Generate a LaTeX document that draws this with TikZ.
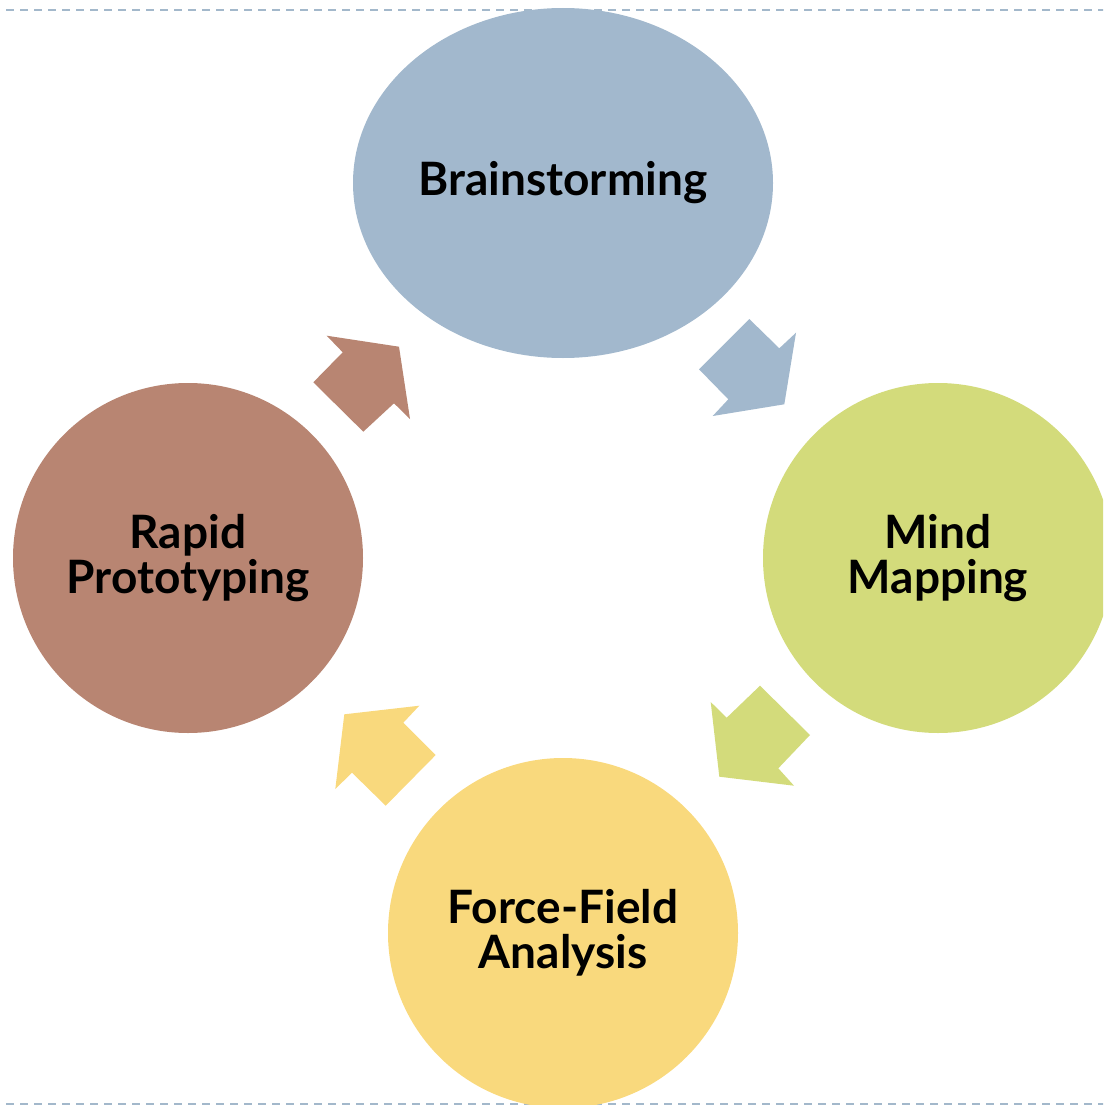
\documentclass[tikz,border=0pt]{standalone}
\usepackage{fontspec}
\setmainfont{Lato}
\usetikzlibrary{shapes.geometric}
\definecolor{cblue}{HTML}{A2B8CD}
\definecolor{cgreen}{HTML}{D3DB7B}
\definecolor{cyellow}{HTML}{F9D97D}
\definecolor{cbrown}{HTML}{B88572}
\definecolor{cdash}{HTML}{A3B8CB}
\tikzset{
  stage/.style={circle, minimum size=350pt, inner sep=0pt, align=center,
    font=\fontsize{46}{45}\selectfont\bfseries, text=black},
  frameline/.style={draw=cdash, line width=2pt, dash pattern=on 8pt off 6pt},
}
\begin{document}
\begin{tikzpicture}[x=1pt,y=-1pt]
\useasboundingbox (0,0) rectangle (1103,1105);
\begin{scope}
\clip (0,0) rectangle (1103,1105);
\coordinate (tl) at (6,10);
\coordinate (tr) at (1110,10);
\coordinate (bl) at (6,1104);
\coordinate (br) at (1110,1104);
\draw[frameline] (tl) -- (tr);
\draw[frameline] (bl) -- (br);

\node[stage, ellipse, fill=cblue, minimum width=420pt, minimum height=350pt] (brain) at (563,183) {Brainstorming};
\node[stage, fill=cgreen] (mind) at (938,558) {Mind\\Mapping};
\node[stage, fill=cyellow] (force) at (563,933) {Force-Field\\Analysis};
\node[stage, fill=cbrown] (rapid) at (188,558) {Rapid\\Prototyping};

% block arrows
\fill[cblue] (749.3,319) -- (779.3,348.3) -- (796,332.7) -- (784.3,404.3) -- (712.7,416) -- (728.3,399.3) -- (699,369.3) -- cycle;
\fill[cgreen] (760,685.7) -- (810,735) -- (778.3,768.3) -- (794,785.7) -- (719.3,776.7) -- (710.7,702) -- (726.7,717.7) -- cycle;
\fill[cyellow] (419.3,705.7) -- (403.3,722.7) -- (435.7,755) -- (385.7,805.7) -- (352,772.7) -- (335.3,789) -- (344.3,714.3) -- cycle;
\fill[cbrown] (326.7,335.7) -- (399,346.7) -- (410,419) -- (394,403.3) -- (363.3,431.7) -- (313.3,382.3) -- (342.7,352.3) -- cycle;
\end{scope}
\end{tikzpicture}
\end{document}
